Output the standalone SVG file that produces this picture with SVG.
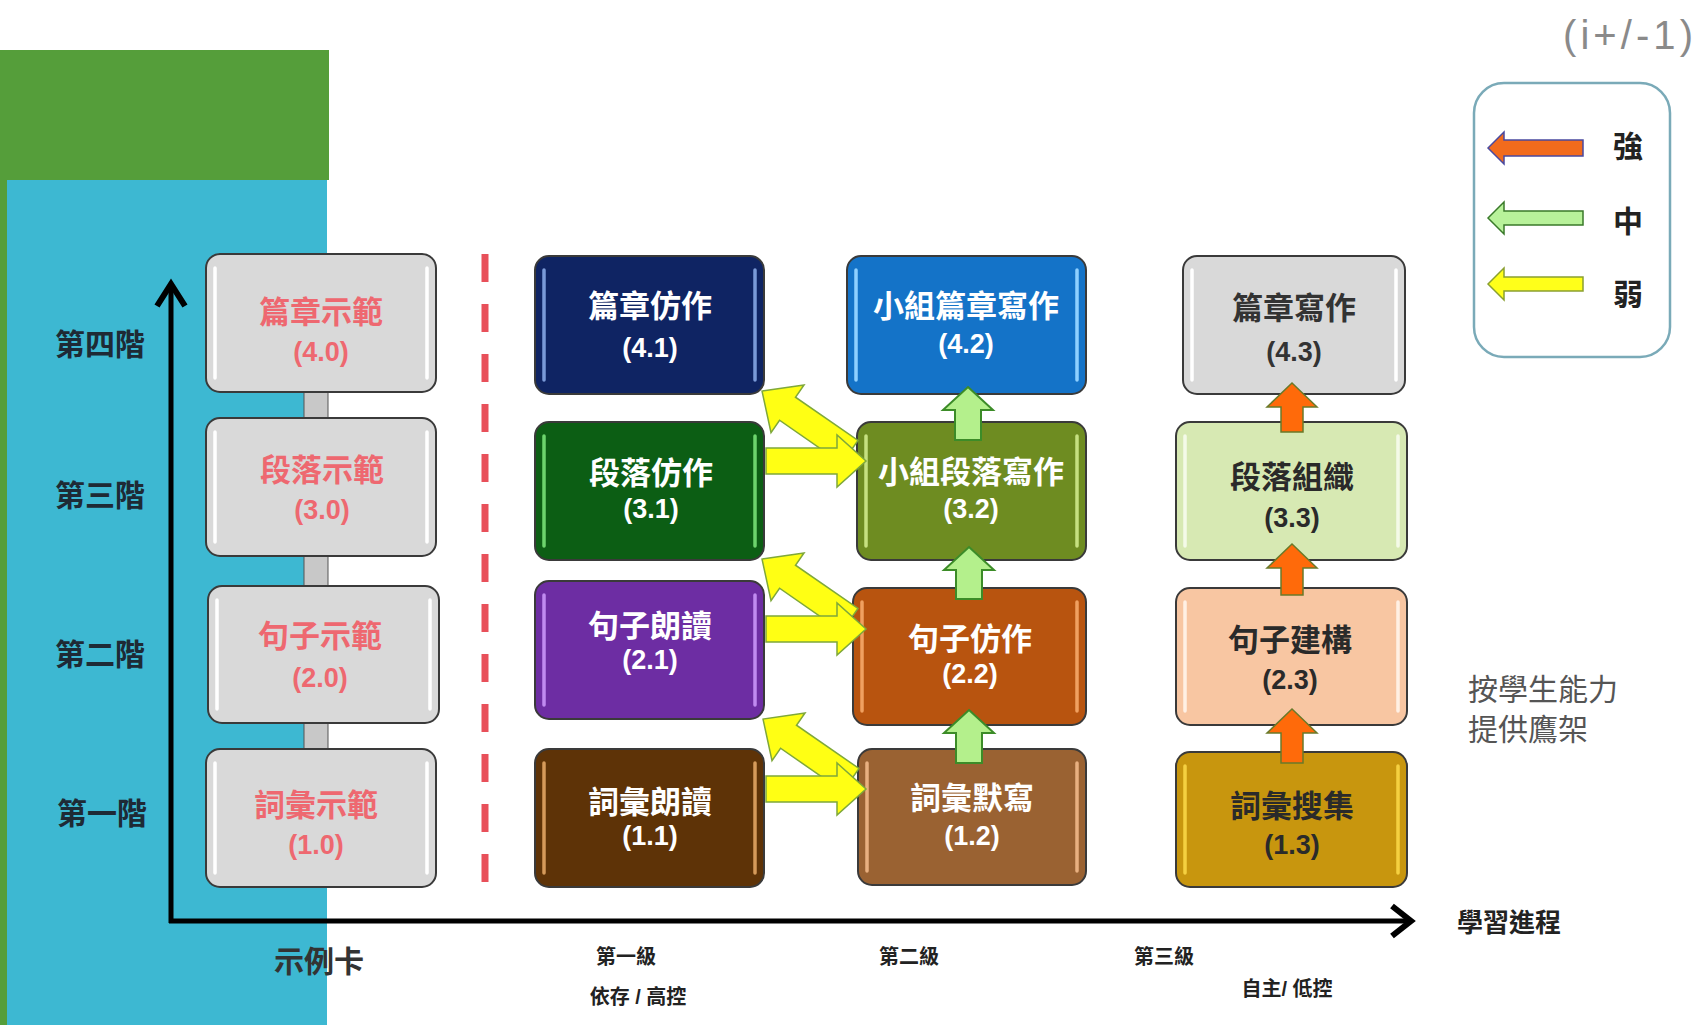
<svg xmlns="http://www.w3.org/2000/svg" width="1697" height="1025" viewBox="0 0 1697 1025">
<style>
text{font-family:"Liberation Sans","Noto Sans CJK TC",sans-serif;text-anchor:middle;dominant-baseline:central}
.box{stroke:#3a3a3a;stroke-width:2}
.hl{stroke-width:3.5;stroke-linecap:round;fill:none}
.t1{font-size:31px;font-weight:bold}
.t2{font-size:27px;font-weight:bold}
.red{fill:#EE6870}
.wh{fill:#FFFFFF}
.dk{fill:#2a2a2a}
.lvl{font-size:30px;font-weight:bold;fill:#1E2A35}
.sm{font-size:20px;font-weight:bold;fill:#222}
.yel{fill:#FFFF14;stroke:#7FA83A;stroke-width:1.5}
.grn{fill:#B4F08C;stroke:#3C8C28;stroke-width:2}
.org{fill:#FF6A0A;stroke:#6A7A2A;stroke-width:1.5}
</style>
<rect width="1697" height="1025" fill="#FFFFFF"/>
<rect x="0" y="50" width="329" height="130" fill="#559E3A"/>
<rect x="0" y="180" width="7" height="845" fill="#559E3A"/>
<rect x="7" y="180" width="320" height="845" fill="#3DB8D2"/>

<g id="axes">
<line x1="171" y1="284" x2="171" y2="923" stroke="#000" stroke-width="5"/>
<polyline points="157,306 171,284 185,306" fill="none" stroke="#000" stroke-width="6"/>
<line x1="169" y1="921" x2="1410" y2="921" stroke="#000" stroke-width="5"/>
<polyline points="1392,906 1411,921 1392,936" fill="none" stroke="#000" stroke-width="6"/>
<line x1="485" y1="254" x2="485" y2="887" stroke="#E8505A" stroke-width="7" stroke-dasharray="28 22"/>
</g>

<g id="labels">
<text class="lvl" x="100" y="344">第四階</text>
<text class="lvl" x="100" y="495">第三階</text>
<text class="lvl" x="100" y="654">第二階</text>
<text class="lvl" x="102" y="813">第一階</text>
<text x="319" y="961" font-size="30" font-weight="bold" fill="#333">示例卡</text>
<text x="1509" y="923" font-size="26" font-weight="bold" fill="#222">學習進程</text>
<text class="sm" x="626" y="957">第一級</text>
<text class="sm" x="638" y="997">依存 / 高控</text>
<text class="sm" x="909" y="957">第二級</text>
<text class="sm" x="1164" y="957">第三級</text>
<text class="sm" x="1287" y="989">自主/ 低控</text>
<text x="1468" y="689" font-size="30" fill="#555" style="text-anchor:start">按學生能力</text>
<text x="1468" y="729" font-size="30" fill="#555" style="text-anchor:start">提供鷹架</text>
<text x="1628" y="35" font-size="40" fill="#8A8A8A" textLength="130" lengthAdjust="spacing">(i+/-1)</text>
</g>

<g id="legend">
<rect x="1474" y="83" width="196" height="274" rx="30" fill="#FFFFFF" stroke="#7AAAB8" stroke-width="2.5"/>
<path d="M1488,148 L1504,132 V140 H1583 V156 H1504 V164 Z" fill="#F26B1D" stroke="#4A4AA0" stroke-width="1.5"/>
<path d="M1488,218 L1504,202 V211 H1583 V225 H1504 V234 Z" fill="#B8F29A" stroke="#3A7A2A" stroke-width="1.5"/>
<path d="M1488,284 L1504,268 V277 H1583 V291 H1504 V300 Z" fill="#FFFF1A" stroke="#8AA030" stroke-width="1.5"/>
<text x="1628" y="146" font-size="30" font-weight="bold" fill="#222">強</text>
<text x="1628" y="221" font-size="30" font-weight="bold" fill="#222">中</text>
<text x="1628" y="294" font-size="30" font-weight="bold" fill="#222">弱</text>
</g>

<g id="col0-bars">
<rect x="304" y="390" width="24" height="30" fill="#C8C8C8" stroke="#555" stroke-width="1"/>
<rect x="304" y="554" width="24" height="34" fill="#C8C8C8" stroke="#555" stroke-width="1"/>
<rect x="304" y="721" width="24" height="30" fill="#C8C8C8" stroke="#555" stroke-width="1"/>
</g>

<g id="n40"><rect class="box" x="206" y="254" width="230" height="138" rx="14" fill="#D9D9D9"/><line class="hl" x1="215" y1="268" x2="215" y2="378" stroke="#FFF"/><line class="hl" x1="427" y1="268" x2="427" y2="378" stroke="#FFF"/><text class="t1 red" x="321" y="312">篇章示範</text><text class="t2 red" x="321" y="352">(4.0)</text></g>
<g id="n30"><rect class="box" x="206" y="418" width="230" height="138" rx="14" fill="#D9D9D9"/><line class="hl" x1="215" y1="432" x2="215" y2="542" stroke="#FFF"/><line class="hl" x1="427" y1="432" x2="427" y2="542" stroke="#FFF"/><text class="t1 red" x="322" y="470">段落示範</text><text class="t2 red" x="322" y="510">(3.0)</text></g>
<g id="n20"><rect class="box" x="208" y="586" width="231" height="137" rx="14" fill="#D9D9D9"/><line class="hl" x1="217" y1="600" x2="217" y2="709" stroke="#FFF"/><line class="hl" x1="430" y1="600" x2="430" y2="709" stroke="#FFF"/><text class="t1 red" x="320" y="636">句子示範</text><text class="t2 red" x="320" y="678">(2.0)</text></g>
<g id="n10"><rect class="box" x="206" y="749" width="230" height="138" rx="14" fill="#D9D9D9"/><line class="hl" x1="215" y1="763" x2="215" y2="873" stroke="#FFF"/><line class="hl" x1="427" y1="763" x2="427" y2="873" stroke="#FFF"/><text class="t1 red" x="316" y="805">詞彙示範</text><text class="t2 red" x="316" y="845">(1.0)</text></g>

<g id="n41"><rect class="box" x="535" y="256" width="229" height="138" rx="14" fill="#0F2463"/><line class="hl" x1="544" y1="270" x2="544" y2="380" stroke="#7A9AD8"/><line class="hl" x1="755" y1="270" x2="755" y2="380" stroke="#7A9AD8"/><text class="t1 wh" x="650" y="306">篇章仿作</text><text class="t2 wh" x="650" y="348">(4.1)</text></g>
<g id="n31"><rect class="box" x="535" y="422" width="229" height="138" rx="14" fill="#0C5E14"/><line class="hl" x1="544" y1="436" x2="544" y2="546" stroke="#6CD46C"/><line class="hl" x1="755" y1="436" x2="755" y2="546" stroke="#6CD46C"/><text class="t1 wh" x="651" y="473">段落仿作</text><text class="t2 wh" x="651" y="509">(3.1)</text></g>
<g id="n21"><rect class="box" x="535" y="581" width="229" height="138" rx="14" fill="#6D2DA3"/><line class="hl" x1="544" y1="595" x2="544" y2="705" stroke="#C08AF0"/><line class="hl" x1="755" y1="595" x2="755" y2="705" stroke="#C08AF0"/><text class="t1 wh" x="650" y="626">句子朗讀</text><text class="t2 wh" x="650" y="660">(2.1)</text></g>
<g id="n11"><rect class="box" x="535" y="749" width="229" height="138" rx="14" fill="#5E3307"/><line class="hl" x1="544" y1="763" x2="544" y2="873" stroke="#D59A5A"/><line class="hl" x1="755" y1="763" x2="755" y2="873" stroke="#D59A5A"/><text class="t1 wh" x="650" y="802">詞彙朗讀</text><text class="t2 wh" x="650" y="836">(1.1)</text></g>

<g id="n42"><rect class="box" x="847" y="256" width="239" height="138" rx="14" fill="#1473C8"/><line class="hl" x1="856" y1="270" x2="856" y2="380" stroke="#8FD0FF"/><line class="hl" x1="1077" y1="270" x2="1077" y2="380" stroke="#8FD0FF"/><text class="t1 wh" x="966" y="306">小組篇章寫作</text><text class="t2 wh" x="966" y="344">(4.2)</text></g>
<g id="n32"><rect class="box" x="857" y="422" width="229" height="138" rx="14" fill="#6E8C21"/><line class="hl" x1="866" y1="436" x2="866" y2="546" stroke="#C6E080"/><line class="hl" x1="1077" y1="436" x2="1077" y2="546" stroke="#C6E080"/><text class="t1 wh" x="971" y="472">小組段落寫作</text><text class="t2 wh" x="971" y="509">(3.2)</text></g>
<g id="n22"><rect class="box" x="853" y="588" width="233" height="137" rx="14" fill="#B8540F"/><line class="hl" x1="862" y1="602" x2="862" y2="711" stroke="#F0A060"/><line class="hl" x1="1077" y1="602" x2="1077" y2="711" stroke="#F0A060"/><text class="t1 wh" x="970" y="639">句子仿作</text><text class="t2 wh" x="970" y="674">(2.2)</text></g>
<g id="n12"><rect class="box" x="858" y="749" width="228" height="136" rx="14" fill="#9A6232"/><line class="hl" x1="867" y1="763" x2="867" y2="871" stroke="#E8B080"/><line class="hl" x1="1077" y1="763" x2="1077" y2="871" stroke="#E8B080"/><text class="t1 wh" x="972" y="798">詞彙默寫</text><text class="t2 wh" x="972" y="836">(1.2)</text></g>

<g id="n43"><rect class="box" x="1183" y="256" width="222" height="138" rx="14" fill="#D9D9D9"/><line class="hl" x1="1192" y1="270" x2="1192" y2="380" stroke="#FFF"/><line class="hl" x1="1396" y1="270" x2="1396" y2="380" stroke="#FFF"/><text class="t1" x="1294" y="308" fill="#333">篇章寫作</text><text class="t2" x="1294" y="352" fill="#333">(4.3)</text></g>
<g id="n33"><rect class="box" x="1176" y="422" width="231" height="138" rx="14" fill="#D7E9B3"/><line class="hl" x1="1185" y1="436" x2="1185" y2="546" stroke="#F4FAE8"/><line class="hl" x1="1398" y1="436" x2="1398" y2="546" stroke="#F4FAE8"/><text class="t1 dk" x="1292" y="477">段落組織</text><text class="t2 dk" x="1292" y="518">(3.3)</text></g>
<g id="n23"><rect class="box" x="1176" y="588" width="231" height="137" rx="14" fill="#F8C6A2"/><line class="hl" x1="1185" y1="602" x2="1185" y2="711" stroke="#FFF0E4"/><line class="hl" x1="1398" y1="602" x2="1398" y2="711" stroke="#FFF0E4"/><text class="t1 dk" x="1290" y="640">句子建構</text><text class="t2 dk" x="1290" y="680">(2.3)</text></g>
<g id="n13"><rect class="box" x="1176" y="752" width="231" height="135" rx="14" fill="#C8960E"/><line class="hl" x1="1185" y1="766" x2="1185" y2="873" stroke="#F5D040"/><line class="hl" x1="1398" y1="766" x2="1398" y2="873" stroke="#F5D040"/><text class="t1 dk" x="1292" y="806">詞彙搜集</text><text class="t2 dk" x="1292" y="845">(1.3)</text></g>

<g id="connectors">
<path class="yel" transform="translate(850,452) rotate(-145.3)" d="M0,-14 H76 V-29 L107,0 L76,29 V14 H0 Z"/>
<path class="yel" transform="translate(766,461)" d="M0,-13 H71 V-26 L100,0 L71,26 V13 H0 Z"/>
<path class="yel" transform="translate(850,620) rotate(-145.3)" d="M0,-14 H76 V-29 L107,0 L76,29 V14 H0 Z"/>
<path class="yel" transform="translate(766,629)" d="M0,-13 H71 V-26 L100,0 L71,26 V13 H0 Z"/>
<path class="yel" transform="translate(851,780) rotate(-145.3)" d="M0,-14 H76 V-29 L107,0 L76,29 V14 H0 Z"/>
<path class="yel" transform="translate(766,789)" d="M0,-13 H71 V-26 L100,0 L71,26 V13 H0 Z"/>
<path class="grn" transform="translate(968,387)" d="M0,0 L25,23 H13 V53 H-13 V23 H-25 Z"/>
<path class="grn" transform="translate(969,547)" d="M0,0 L25,23 H13 V52 H-13 V23 H-25 Z"/>
<path class="grn" transform="translate(969,710)" d="M0,0 L25,23 H13 V53 H-13 V23 H-25 Z"/>
<path class="org" transform="translate(1292,383)" d="M0,0 L25,24 H11 V49 H-11 V24 H-25 Z"/>
<path class="org" transform="translate(1292,544)" d="M0,0 L25,24 H11 V51 H-11 V24 H-25 Z"/>
<path class="org" transform="translate(1292,709)" d="M0,0 L25,24 H11 V54 H-11 V24 H-25 Z"/>
</g>
</svg>
